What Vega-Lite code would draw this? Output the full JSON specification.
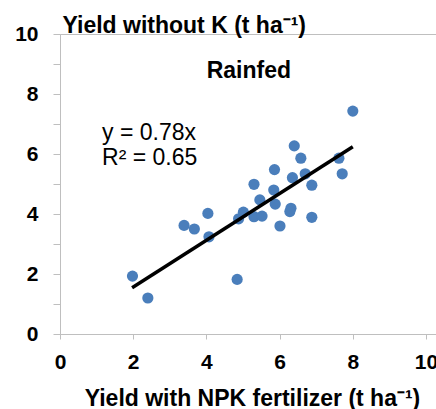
{
  "$schema": "https://vega.github.io/schema/vega-lite/v6.json",
  "width": 377,
  "height": 300,
  "autosize": {"type": "none"},
  "padding": {"left": 60, "top": 34, "right": 0, "bottom": 75},
  "background": "white",
  "config": {"view": {"stroke": "#BFBFBF", "strokeWidth": 1}, "font": "Liberation Sans"},
  "datasets": {
    "points": [
      {"x": 6.40, "y": 6.27}, {"x": 6.58, "y": 5.86}, {"x": 7.62, "y": 5.86}, {"x": 7.71, "y": 5.34},
      {"x": 5.86, "y": 5.48}, {"x": 6.35, "y": 5.21}, {"x": 6.70, "y": 5.34}, {"x": 6.88, "y": 4.96},
      {"x": 5.30, "y": 4.99}, {"x": 5.84, "y": 4.80}, {"x": 5.46, "y": 4.47}, {"x": 5.88, "y": 4.33},
      {"x": 5.01, "y": 4.06}, {"x": 4.88, "y": 3.84}, {"x": 5.30, "y": 3.91}, {"x": 5.52, "y": 3.93},
      {"x": 6.31, "y": 4.19}, {"x": 6.28, "y": 4.08}, {"x": 6.88, "y": 3.89}, {"x": 6.01, "y": 3.60},
      {"x": 4.04, "y": 4.02}, {"x": 3.39, "y": 3.62}, {"x": 3.67, "y": 3.50}, {"x": 4.07, "y": 3.24},
      {"x": 1.98, "y": 1.93}, {"x": 4.84, "y": 1.82}, {"x": 2.40, "y": 1.20}, {"x": 8.00, "y": 7.43}
    ],
    "trend": [{"x": 1.97, "y": 1.54}, {"x": 8.0, "y": 6.24}],
    "boldText": [{"x": 5.16, "y": 8.77, "label": "Rainfed"}],
    "eqText": [
      {"x": 1.15, "y": 6.70, "label": "y = 0.78x"},
      {"x": 1.15, "y": 5.87, "label": "R² = 0.65"}
    ]
  },
  "encoding": {
    "x": {
      "field": "x", "type": "quantitative",
      "scale": {"domain": [0, 10.3], "nice": false, "zero": true},
      "axis": {
        "values": [0, 2, 4, 6, 8, 10], "grid": false,
        "domainColor": "#BFBFBF", "tickColor": "#BFBFBF", "tickSize": 5,
        "labelFontSize": 21, "labelFontWeight": "bold", "labelColor": "black", "labelPadding": 12, "labelFlush": false,
        "title": "Yield with NPK fertilizer (t ha⁻¹)", "titleFontSize": 23, "titleFontWeight": "bold", "titleColor": "black",
        "titleX": 192, "titleAlign": "center", "titlePadding": 15
      }
    },
    "y": {
      "field": "y", "type": "quantitative",
      "scale": {"domain": [0, 10], "nice": false},
      "axis": {
        "values": [0, 1, 2, 3, 4, 5, 6, 7, 8, 9, 10], "grid": false,
        "labelExpr": "datum.value % 2 == 0 ? datum.label : ''",
        "domainColor": "#BFBFBF", "tickColor": "#BFBFBF", "tickSize": 7,
        "labelFontSize": 21, "labelFontWeight": "bold", "labelColor": "black", "labelPadding": 15, "labelFlush": false,
        "title": "Yield without K (t ha⁻¹)", "titleFontSize": 23, "titleFontWeight": "bold", "titleColor": "black",
        "titleAngle": 0, "titleAlign": "left", "titleBaseline": "middle", "titleX": 2, "titleY": -9
      }
    }
  },
  "layer": [
    {"data": {"name": "points"}, "mark": {"type": "circle", "size": 125, "color": "#4A7EBB", "opacity": 1}},
    {"data": {"name": "trend"}, "mark": {"type": "line", "color": "black", "strokeWidth": 3.5}},
    {"data": {"name": "boldText"}, "mark": {"type": "text", "fontSize": 23, "fontWeight": "bold", "align": "center", "baseline": "middle", "color": "black"}, "encoding": {"text": {"field": "label"}}},
    {"data": {"name": "eqText"}, "mark": {"type": "text", "fontSize": 23, "align": "left", "baseline": "middle", "color": "black"}, "encoding": {"text": {"field": "label"}}}
  ]
}
